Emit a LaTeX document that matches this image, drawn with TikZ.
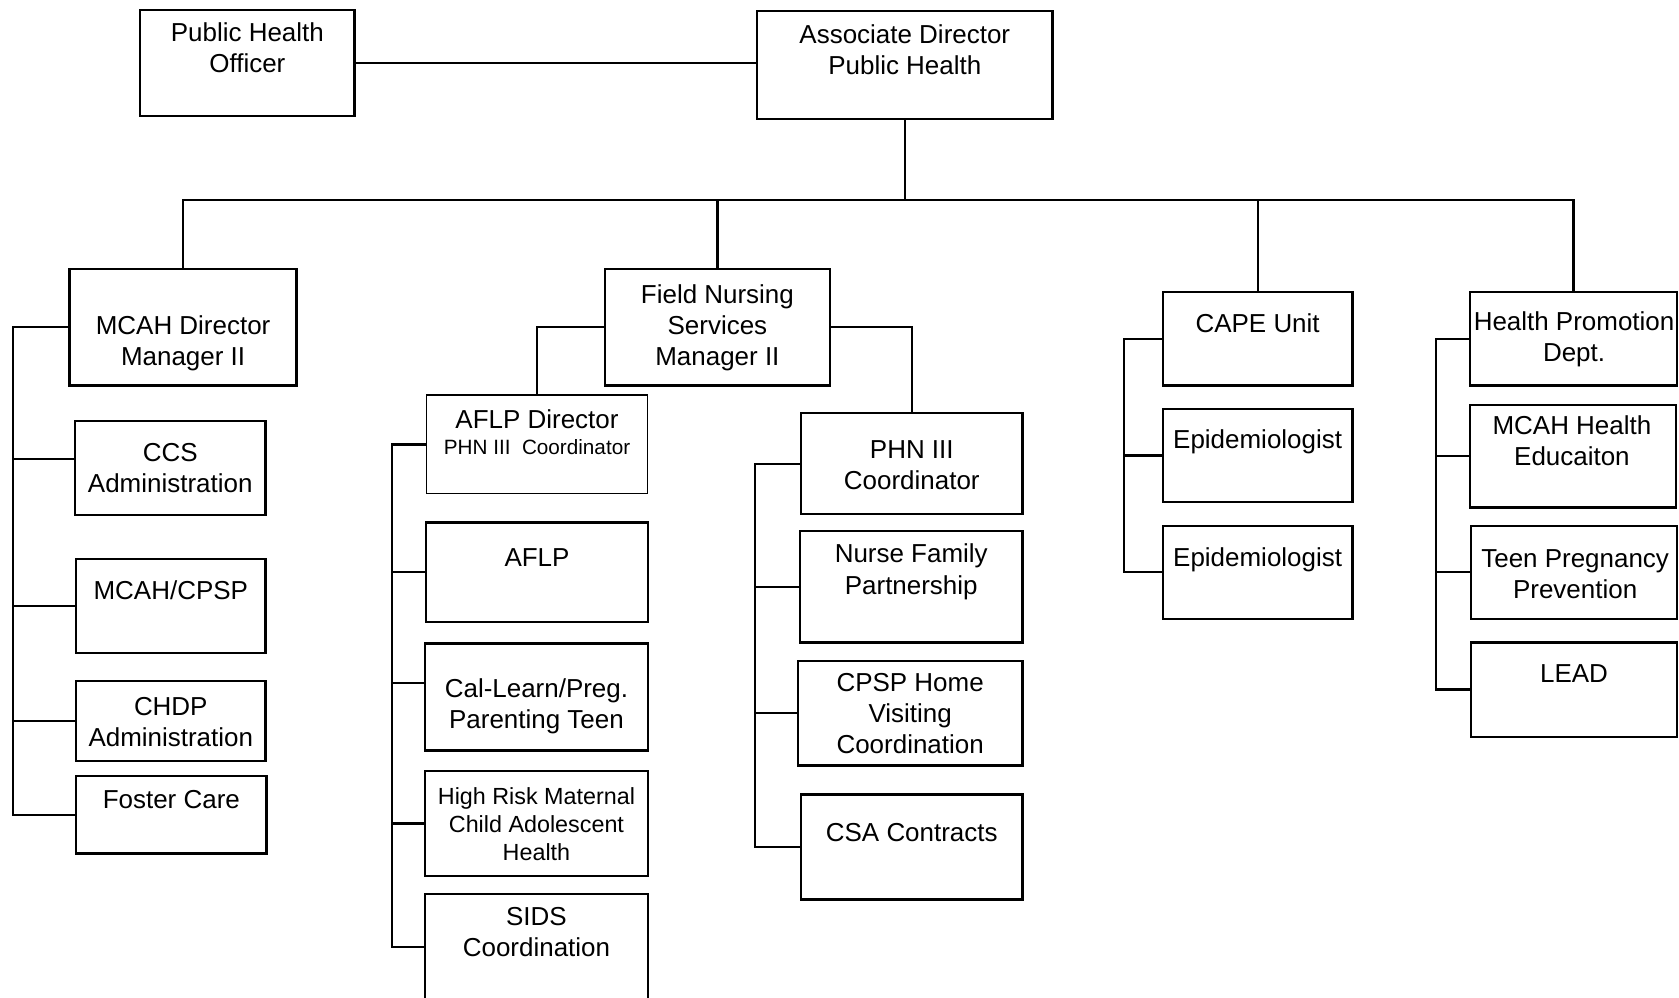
\documentclass[tikz,border=0pt]{standalone}
\usepackage{fontspec}
\setmainfont{Liberation Sans}
\begin{document}
\begin{tikzpicture}[x=0.1mm, y=-0.1mm, line width=0.6pt,
    box/.style={draw, inner sep=0pt},
    txt/.style={align=center, inner sep=0pt, yshift=-0.15mm, font=\fontsize{6.9}{8.25}\selectfont},
    smalltxt/.style={align=center, inner sep=0pt, font=\fontsize{6.2}{7.4}\selectfont}]
    \useasboundingbox (0,0) rectangle (1568,932);
    \clip (0,0) rectangle (1568,932);
    % Top level
    \node[box, minimum width=20mm, minimum height=9.9mm] (pho) at (231,58.5) {};
    \node[txt] (pho-t) at (231,43.5) {Public Health\\Officer};
    \node[box, minimum width=27.6mm, minimum height=10.1mm] (adph) at (845,60.5) {};
    \node[txt] (adph-t) at (845,44.5) {Associate Director\\Public Health};
    \draw (pho.east) -- (pho.east -| adph.west);
    % Bus to the four units
    \coordinate (bus) at (846,187);
    \node[box, minimum width=21.2mm, minimum height=10.9mm] (mcah) at (171,305.5) {};
    \node[txt] (mcah-t) at (171,319.5) {MCAH Director\\Manager II};
    \node[box, minimum width=21mm, minimum height=10.9mm] (fns) at (670,305.5) {};
    \node[txt] (fns-t) at (670,305) {Field Nursing\\Services\\Manager II};
    \node[box, minimum width=17.7mm, minimum height=8.7mm] (cape) at (1174.5,316.5) {};
    \node[txt] (cape-t) at (1174.5,300) {CAPE Unit};
    \node[box, minimum width=19.3mm, minimum height=8.7mm] (hp) at (1469.5,316.5) {};
    \node[txt] (hp-t) at (1470,315.5) {Health Promotion\\Dept.};
    \draw (adph.south) -- (adph.south |- bus);
    \draw (mcah.north) |- (bus) -| (hp.north);
    \draw (fns.north) -- (fns.north |- bus);
    \draw (cape.north) -- (cape.north |- bus);
    % MCAH column
    \coordinate (mcah-l) at (12,305.5);
    \node[box, minimum width=17.8mm, minimum height=8.8mm] (ccs) at (159,437) {};
    \node[txt] (ccs-t) at (159,435.5) {CCS\\Administration};
    \node[box, minimum width=17.7mm, minimum height=8.8mm] (cpsp) at (159.5,566) {};
    \node[txt] (cpsp-t) at (159.5,550) {MCAH/CPSP};
    \node[box, minimum width=17.7mm, minimum height=7.5mm] (chdp) at (159.5,673.5) {};
    \node[txt] (chdp-t) at (159.5,672.5) {CHDP\\Administration};
    \node[box, minimum width=17.8mm, minimum height=7.2mm] (foster) at (160,761) {};
    \node[txt] (foster-t) at (160,745) {Foster Care};
    \draw (mcah.west) -- (mcah-l) |- (foster.west);
    \draw ([yshift=0.8mm]ccs.west) -- ([yshift=0.8mm]ccs.west -| mcah-l);
    \foreach \n in {cpsp,chdp} {
        \draw (\n.west) -- (\n.west -| mcah-l);
    }
    % Field nursing, left: AFLP
    \node[box, line width=0.35pt, minimum width=20.7mm, minimum height=9.2mm] (aflpd) at (501.5,415) {};
    \node[txt] (aflpd-t) at (501.5,390) {AFLP Director};
    \node[inner sep=0pt, font=\fontsize{5.5}{6.5}\selectfont] (aflpd-s) at (501.5,418) {PHN III\ \ Coordinator};
    \draw (fns.west) -| (aflpd.north);
    \coordinate (aflpd-l) at (366,415);
    \node[box, minimum width=20.7mm, minimum height=9.3mm] (aflp) at (501.5,534.5) {};
    \node[txt] (aflp-t) at (501.5,519) {AFLP};
    \node[box, minimum width=20.8mm, minimum height=10mm] (cal) at (501,651) {};
    \node[txt] (cal-t) at (501,658.5) {Cal-Learn/Preg.\\Parenting Teen};
    \node[box, minimum width=20.8mm, minimum height=9.8mm] (hrisk) at (501,769) {};
    \node[smalltxt] (hrisk-t) at (501,770) {High Risk Maternal\\Child Adolescent\\Health};
    \node[box, minimum width=20.8mm, minimum height=9.9mm] (sids) at (501,884.5) {};
    \node[txt] (sids-t) at (501,868.5) {SIDS\\Coordination};
    \draw (aflpd.west) -- (aflpd-l) |- (sids.west);
    \draw ([yshift=1.3mm]cal.west) -- ([yshift=1.3mm]cal.west -| aflpd-l);
    \foreach \n in {aflp,hrisk} {
        \draw (\n.west) -- (\n.west -| aflpd-l);
    }
    % Field nursing, right: PHN III
    \node[box, minimum width=20.7mm, minimum height=9.4mm] (phn) at (851.5,433) {};
    \node[txt] (phn-t) at (851.5,432.5) {PHN III\\Coordinator};
    \draw (fns.east) -| (phn.north);
    \coordinate (phn-l) at (705,433);
    \node[box, minimum width=20.8mm, minimum height=10.4mm] (nfp) at (851,548) {};
    \node[txt] (nfp-t) at (851,532.5) {Nurse Family\\Partnership};
    \node[box, minimum width=21mm, minimum height=9.8mm] (cpsph) at (850,666) {};
    \node[txt] (cpsph-t) at (850,665) {CPSP Home\\Visiting\\Coordination};
    \node[box, minimum width=20.7mm, minimum height=9.8mm] (csa) at (851.5,791) {};
    \node[txt] (csa-t) at (851.5,776) {CSA Contracts};
    \draw (phn.west) -- (phn-l) |- (csa.west);
    \foreach \n in {nfp,cpsph} {
        \draw (\n.west) -- (\n.west -| phn-l);
    }
    % CAPE column
    \coordinate (cape-l) at (1050,316.5);
    \node[box, minimum width=17.7mm, minimum height=8.7mm] (epia) at (1174.5,425.5) {};
    \node[txt] (epia-t) at (1174.5,411) {Epidemiologist};
    \node[box, minimum width=17.7mm, minimum height=8.7mm] (epib) at (1174.5,534.5) {};
    \node[txt] (epib-t) at (1174.5,521) {Epidemiologist};
    \draw (cape.west) -- (cape-l) |- (epib.west);
    \draw (epia.west) -- (epia.west -| cape-l);
    % Health promotion column
    \coordinate (hp-l) at (1341,316.5);
    \node[box, minimum width=19.2mm, minimum height=9.6mm] (mhe) at (1469,426) {};
    \node[txt] (mhe-t) at (1468,410.5) {MCAH Health\\Educaiton};
    \node[box, minimum width=19.2mm, minimum height=8.7mm] (teen) at (1470,534.5) {};
    \node[txt] (teen-t) at (1471,534.5) {Teen Pregnancy\\Prevention};
    \node[box, minimum width=19.2mm, minimum height=8.8mm] (lead) at (1470,644) {};
    \node[txt] (lead-t) at (1470,628) {LEAD};
    \draw (hp.west) -- (hp-l) |- (lead.west);
    \foreach \n in {mhe,teen} {
        \draw (\n.west) -- (\n.west -| hp-l);
    }
\end{tikzpicture}
\end{document}
